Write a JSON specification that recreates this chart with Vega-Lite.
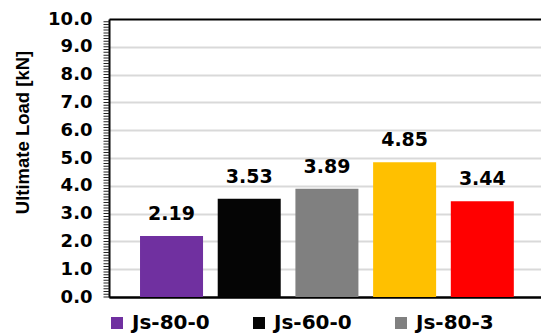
{
  "$schema": "https://vega.github.io/schema/vega-lite/v6.json",
  "width": 432,
  "height": 278,
  "autosize": {"type": "none"},
  "padding": {"left": 109, "top": 19, "right": 0, "bottom": 37},
  "background": "white",
  "config": {"view": {"stroke": null}},
  "data": {
    "values": [
      {"specimen": "Js-80-0", "load": 2.19},
      {"specimen": "Js-60-0", "load": 3.53},
      {"specimen": "Js-80-3", "load": 3.89},
      {"specimen": "Js-60-3", "load": 4.85},
      {"specimen": "Js-80-6", "load": 3.44}
    ]
  },
  "encoding": {
    "x": {
      "field": "specimen",
      "type": "nominal",
      "sort": null,
      "scale": {"paddingInner": 0.189, "paddingOuter": 0.3745, "align": 0.533},
      "axis": {"labels": false, "ticks": false, "title": null, "domainColor": "black", "domainWidth": 2}
    }
  },
  "resolve": {"axis": {"y": "independent"}},
  "layer": [
    {
      "mark": {"type": "bar"},
      "encoding": {
        "y": {
          "field": "load",
          "type": "quantitative",
          "scale": {"domain": [0, 10], "nice": false},
          "axis": {
            "orient": "left",
            "title": "Ultimate Load [kN]",
            "titleFont": "Liberation Sans",
            "titleFontWeight": "bold",
            "titleFontSize": 18.5,
            "titleColor": "black",
            "titleX": -77,
            "titleY": 113,
            "titleBaseline": "bottom",
            "values": [0, 1, 2, 3, 4, 5, 6, 7, 8, 9, 10],
            "format": ".1f",
            "labelOverlap": false,
            "labelFlush": false,
            "labelFont": "DejaVu Sans",
            "labelFontWeight": "bold",
            "labelFontSize": 18,
            "labelColor": "black",
            "labelPadding": 17,
            "ticks": false,
            "tickSize": 6,
            "domainColor": "black",
            "domainWidth": 2,
            "grid": true,
            "gridWidth": 2,
            "gridColor": {"condition": {"test": "datum.value === 10 || datum.value === 0", "value": "black"}, "value": "#d9d9d9"}
          }
        },
        "color": {
          "field": "specimen",
          "type": "nominal",
          "sort": null,
          "scale": {
            "domain": ["Js-80-0", "Js-60-0", "Js-80-3", "Js-60-3", "Js-80-6"],
            "range": ["#7030A0", "#050505", "#808080", "#FFC000", "#FF0000"]
          },
          "legend": {
            "values": ["Js-80-0", "Js-60-0", "Js-80-3"],
            "orient": "none",
            "legendX": -2,
            "legendY": 294,
            "direction": "horizontal",
            "columns": 3,
            "title": null,
            "symbolType": "square",
            "symbolSize": 144,
            "symbolStrokeWidth": 0,
            "symbolOpacity": 1,
            "labelFont": "DejaVu Sans",
            "labelFontWeight": "bold",
            "labelFontSize": 20,
            "labelColor": "black",
            "columnPadding": 39,
            "labelOffset": 5,
            "padding": 0
          }
        }
      }
    },
    {
      "mark": {"type": "text", "dy": -16, "baseline": "alphabetic", "font": "DejaVu Sans", "fontWeight": "bold", "fontSize": 19, "color": "black"},
      "encoding": {
        "y": {
          "field": "load",
          "type": "quantitative",
          "axis": {
            "orient": "left",
            "title": null,
            "labels": false,
            "grid": false,
            "ticks": false,
            "offset": 3,
            "domain": true,
            "domainWidth": 6,
            "domainColor": "#222222",
            "domainDash": [1, 1.78]
          }
        },
        "text": {"field": "load", "type": "quantitative", "format": ".2f"}
      }
    }
  ]
}
